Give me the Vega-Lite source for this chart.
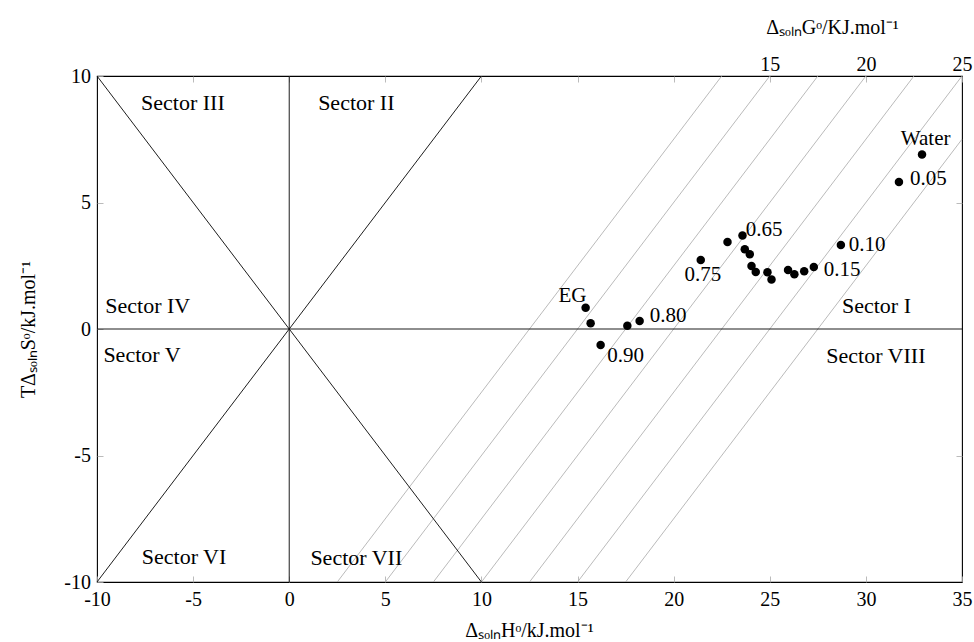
{
  "$schema": "https://vega.github.io/schema/vega-lite/v6.json",
  "width": 865,
  "height": 506,
  "autosize": "none",
  "padding": {"left": 97, "top": 76, "right": 12, "bottom": 60},
  "background": "white",
  "config": {
    "view": {"stroke": "#000", "strokeWidth": 1.1},
    "axis": {
      "grid": false,
      "domain": false,
      "labelFont": "Liberation Serif",
      "labelFontSize": 20,
      "labelColor": "#000",
      "labelFlush": false,
      "labelOverlap": false,
      "titleFont": "Liberation Serif",
      "titleFontSize": 20,
      "titleFontWeight": "normal",
      "titleColor": "#000",
      "tickColor": "#aaa",
      "tickWidth": 0.8,
      "tickSize": -6
    }
  },
  "datasets": {
    "glines": [
      {"x1": 2.5, "y1": -10, "x2": 22.5, "y2": 10},
      {"x1": 5, "y1": -10, "x2": 25, "y2": 10},
      {"x1": 7.5, "y1": -10, "x2": 27.5, "y2": 10},
      {"x1": 10, "y1": -10, "x2": 30, "y2": 10},
      {"x1": 12.5, "y1": -10, "x2": 32.5, "y2": 10},
      {"x1": 15, "y1": -10, "x2": 35, "y2": 10},
      {"x1": 17.5, "y1": -10, "x2": 35, "y2": 7.5}
    ],
    "blines": [
      {"x1": 0, "y1": -10, "x2": 0, "y2": 10},
      {"x1": -10, "y1": 0, "x2": 35, "y2": 0},
      {"x1": -10, "y1": -10, "x2": 10, "y2": 10},
      {"x1": -10, "y1": 10, "x2": 10, "y2": -10}
    ],
    "points": [
      {"H": 32.92, "TS": 6.90},
      {"H": 31.72, "TS": 5.81},
      {"H": 28.70, "TS": 3.32},
      {"H": 27.29, "TS": 2.45},
      {"H": 26.79, "TS": 2.28},
      {"H": 26.28, "TS": 2.16},
      {"H": 25.95, "TS": 2.33},
      {"H": 25.09, "TS": 1.96},
      {"H": 24.88, "TS": 2.24},
      {"H": 24.27, "TS": 2.25},
      {"H": 24.05, "TS": 2.49},
      {"H": 23.96, "TS": 2.95},
      {"H": 23.70, "TS": 3.15},
      {"H": 23.58, "TS": 3.70},
      {"H": 22.80, "TS": 3.44},
      {"H": 21.41, "TS": 2.73},
      {"H": 18.23, "TS": 0.32},
      {"H": 17.59, "TS": 0.13},
      {"H": 16.20, "TS": -0.63},
      {"H": 15.68, "TS": 0.23},
      {"H": 15.42, "TS": 0.84}
    ],
    "plabels": [
      {"H": 31.82, "TS": 7.27, "text": "Water"},
      {"H": 32.29, "TS": 5.69, "text": "0.05"},
      {"H": 29.11, "TS": 3.09, "text": "0.10"},
      {"H": 27.81, "TS": 2.09, "text": "0.15"},
      {"H": 23.75, "TS": 3.68, "text": "0.65"},
      {"H": 20.57, "TS": 1.90, "text": "0.75"},
      {"H": 18.75, "TS": 0.29, "text": "0.80"},
      {"H": 16.55, "TS": -1.29, "text": "0.90"},
      {"H": 14.01, "TS": 1.08, "text": "EG"}
    ],
    "sectors": [
      {"H": 30.55, "TS": 0.64, "text": "Sector I"},
      {"H": 3.49, "TS": 8.66, "text": "Sector II"},
      {"H": -5.53, "TS": 8.66, "text": "Sector III"},
      {"H": -7.36, "TS": 0.64, "text": "Sector IV"},
      {"H": -7.66, "TS": -1.30, "text": "Sector V"},
      {"H": -5.47, "TS": -9.29, "text": "Sector VI"},
      {"H": 3.49, "TS": -9.33, "text": "Sector VII"},
      {"H": 30.52, "TS": -1.33, "text": "Sector VIII"}
    ]
  },
  "resolve": {"axis": {"x": "independent", "y": "independent"}},
  "layer": [
    {
      "data": {"name": "glines"},
      "mark": {"type": "rule", "color": "#a8a8a8", "strokeWidth": 0.8},
      "encoding": {
        "x": {
          "field": "x1", "type": "quantitative",
          "scale": {"domain": [-10, 35], "nice": false, "zero": false},
          "axis": {
            "orient": "bottom",
            "values": [-10, -5, 0, 5, 10, 15, 20, 25, 30, 35],
            "labelExpr": "'' + datum.value",
            "labelPadding": 29,
            "labelBaseline": "alphabetic",
            "title": "ΔₛₒₗₙHᵒ/kJ.mol⁻¹",
            "titleX": 432,
            "titleY": 54,
            "titleAlign": "center",
            "titleBaseline": "alphabetic"
          }
        },
        "y": {
          "field": "y1", "type": "quantitative",
          "scale": {"domain": [-10, 10], "nice": false, "zero": false},
          "axis": {
            "orient": "left",
            "values": [-10, -5, 0, 5, 10],
            "labelExpr": "'' + datum.value",
            "labelPadding": 12.5,
            "labelBaseline": "middle",
            "title": "TΔₛₒₗₙSᵒ/kJ.mol⁻¹",
            "titleAngle": -90,
            "titleX": -63,
            "titleY": 253,
            "titleAlign": "center",
            "titleBaseline": "alphabetic"
          }
        },
        "x2": {"field": "x2"},
        "y2": {"field": "y2"}
      }
    },
    {
      "data": {"name": "blines"},
      "mark": {"type": "rule", "color": "#111", "strokeWidth": 0.95},
      "encoding": {
        "x": {
          "field": "x1", "type": "quantitative",
          "axis": {
            "orient": "top",
            "values": [-5, 0, 5, 10, 15, 20, 25, 30, 35],
            "labelExpr": "datum.value >= 25 ? '' + (datum.value - 10) : ''",
            "labelPadding": 11.3,
            "labelBaseline": "alphabetic",
            "title": "ΔₛₒₗₙGᵒ/KJ.mol⁻¹",
            "titleX": 735,
            "titleY": -43,
            "titleAlign": "center",
            "titleBaseline": "alphabetic"
          }
        },
        "y": {
          "field": "y1", "type": "quantitative",
          "axis": {
            "orient": "right",
            "values": [-5, 5],
            "labels": false,
            "title": null
          }
        },
        "x2": {"field": "x2"},
        "y2": {"field": "y2"}
      }
    },
    {
      "data": {"name": "points"},
      "mark": {"type": "circle", "color": "#000", "opacity": 1, "size": 72},
      "encoding": {
        "x": {"field": "H", "type": "quantitative", "axis": null},
        "y": {"field": "TS", "type": "quantitative", "axis": null}
      }
    },
    {
      "data": {"name": "plabels"},
      "mark": {"type": "text", "align": "left", "baseline": "alphabetic", "font": "Liberation Serif", "fontSize": 21, "color": "#000"},
      "encoding": {
        "x": {"field": "H", "type": "quantitative", "axis": null},
        "y": {"field": "TS", "type": "quantitative", "axis": null},
        "text": {"field": "text"}
      }
    },
    {
      "data": {"name": "sectors"},
      "mark": {"type": "text", "align": "center", "baseline": "alphabetic", "font": "Liberation Serif", "fontSize": 22, "color": "#000"},
      "encoding": {
        "x": {"field": "H", "type": "quantitative", "axis": null},
        "y": {"field": "TS", "type": "quantitative", "axis": null},
        "text": {"field": "text"}
      }
    }
  ]
}
